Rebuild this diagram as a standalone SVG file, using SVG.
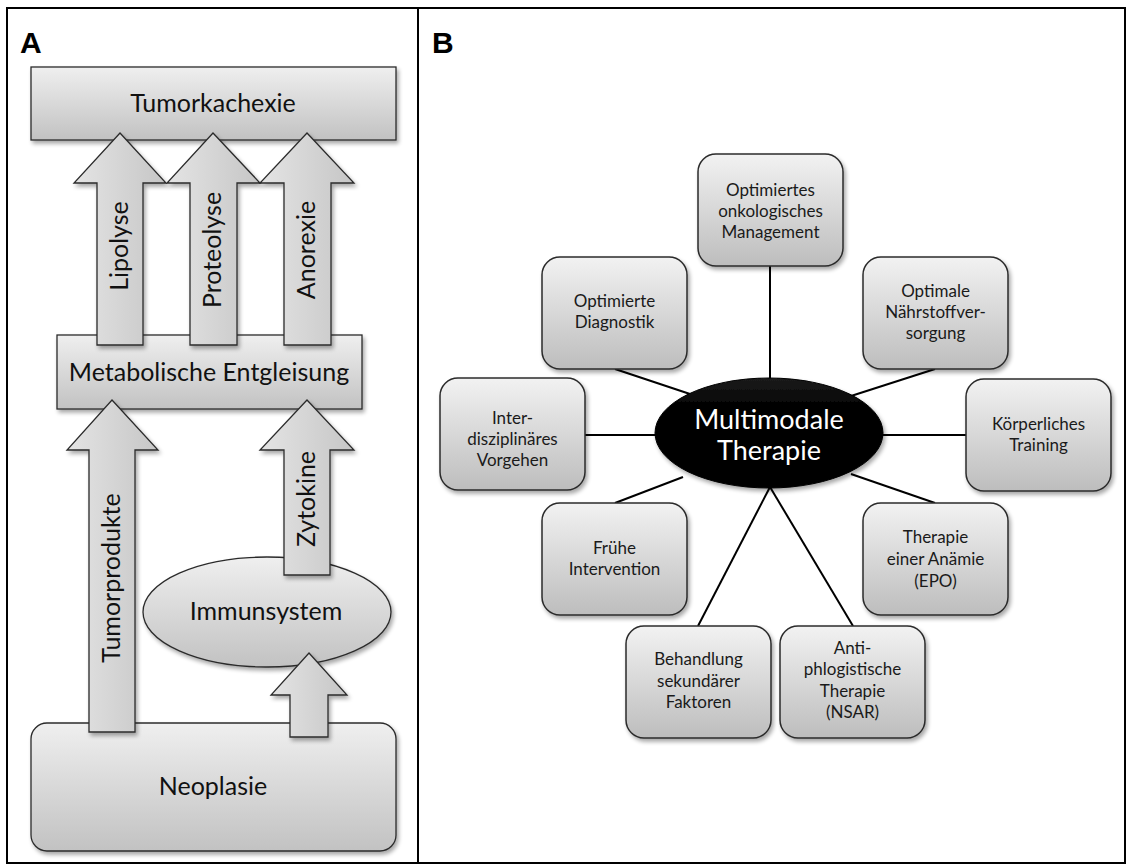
<svg xmlns="http://www.w3.org/2000/svg" width="1131" height="868" viewBox="0 0 1131 868">
  <style>
    .frame { fill: none; stroke: #000; stroke-width: 2; }
    .panel-label { font-family: "Liberation Sans", Arial, sans-serif; font-weight: bold; font-size: 30px; fill: #000; }
    .shape { fill: url(#grayFill); stroke: #2b2b2b; stroke-width: 1.3; filter: url(#shadow); }
    .arrow { fill: url(#arrowFill); stroke: #2b2b2b; stroke-width: 1.3; filter: url(#shadow); }
    .big { font-family: Lato, "Open Sans", sans-serif; font-size: 25px; fill: #111; text-anchor: middle; }
    .card { fill: url(#cardFill); stroke: #2b2b2b; stroke-width: 1.5; filter: url(#shadow); }
    .small { font-family: Lato, "Open Sans", sans-serif; font-size: 17px; fill: #1a1a1a; text-anchor: middle; }
    .hub-text { font-family: Lato, "Open Sans", sans-serif; font-size: 27px; fill: #fff; text-anchor: middle; }
    .link { stroke: #000; stroke-width: 2; fill: none; }
  </style>
  <defs>
    <linearGradient id="grayFill" x1="0" y1="0" x2="0" y2="1">
      <stop offset="0" stop-color="#efefef"/>
      <stop offset="1" stop-color="#c2c2c2"/>
    </linearGradient>
    <linearGradient id="arrowFill" x1="0" y1="0" x2="1" y2="0">
      <stop offset="0" stop-color="#e4e4e4"/>
      <stop offset="1" stop-color="#c6c6c6"/>
    </linearGradient>
    <linearGradient id="cardFill" x1="0" y1="0" x2="0" y2="1">
      <stop offset="0" stop-color="#f2f2f2"/>
      <stop offset="1" stop-color="#bdbdbd"/>
    </linearGradient>
    <linearGradient id="hubFill" x1="0" y1="0" x2="0" y2="1">
      <stop offset="0" stop-color="#1c1c1c"/>
      <stop offset="0.25" stop-color="#030303"/>
      <stop offset="1" stop-color="#000"/>
    </linearGradient>
    <filter id="shadow" x="-10%" y="-10%" width="125%" height="130%">
      <feGaussianBlur in="SourceAlpha" stdDeviation="2"/>
      <feOffset dx="1.5" dy="2.5" result="off"/>
      <feComponentTransfer><feFuncA type="linear" slope="0.35"/></feComponentTransfer>
      <feMerge><feMergeNode/><feMergeNode in="SourceGraphic"/></feMerge>
    </filter>
  </defs>

  <rect fill="#fff" x="0" y="0" width="1131" height="868"/>

  <!-- outer frame and panel divider -->
  <g id="frame">
    <rect class="frame" x="7" y="8" width="1118" height="855"/>
    <line class="frame" x1="418" y1="8" x2="418" y2="863"/>
    <text class="panel-label" x="20" y="53">A</text>
    <text class="panel-label" x="432" y="53">B</text>
  </g>

  <!-- Panel A: boxes -->
  <g id="tumorkachexie">
    <rect class="shape" x="31" y="67" width="365" height="73"/>
    <text class="big" x="213" y="112">Tumorkachexie</text>
  </g>
  <g id="metabolische-entgleisung">
    <rect class="shape" x="57" y="335" width="305" height="74"/>
    <text class="big" x="209" y="381">Metabolische Entgleisung</text>
  </g>
  <g id="immunsystem">
    <ellipse class="shape" cx="267" cy="612" rx="124" ry="55"/>
    <text class="big" x="266" y="620">Immunsystem</text>
  </g>
  <g id="neoplasie">
    <rect class="shape" x="31" y="723" width="365" height="128" rx="16"/>
    <text class="big" x="213" y="795">Neoplasie</text>
  </g>

  <!-- Panel A: block arrows -->
  <g id="arrows-a">
    <g id="arrow-lipolyse">
      <path class="arrow" d="M120,133 L166,183 L143,183 L143,345 L97,345 L97,183 L74,183 Z"/>
      <text class="big" transform="translate(128,246) rotate(-90)">Lipolyse</text>
    </g>
    <g id="arrow-proteolyse">
      <path class="arrow" d="M213,133 L260,183 L237,183 L237,345 L190,345 L190,183 L167,183 Z"/>
      <text class="big" transform="translate(221,250) rotate(-90)">Proteolyse</text>
    </g>
    <g id="arrow-anorexie">
      <path class="arrow" d="M307,133 L354,183 L331,183 L331,345 L284,345 L284,183 L260,183 Z"/>
      <text class="big" transform="translate(315,250) rotate(-90)">Anorexie</text>
    </g>
    <g id="arrow-tumorprodukte">
      <path class="arrow" d="M112,400 L158,450 L135,450 L135,732 L89,732 L89,450 L67,450 Z"/>
      <text class="big" transform="translate(120,578) rotate(-90)">Tumorprodukte</text>
    </g>
    <g id="arrow-zytokine">
      <path class="arrow" d="M307,400 L354,450 L330,450 L330,575 L284,575 L284,450 L260,450 Z"/>
      <text class="big" transform="translate(315,499) rotate(-90)">Zytokine</text>
    </g>
    <g id="arrow-neoplasie-immun">
      <path class="arrow" d="M309,653 L347,695 L328,695 L328,737 L290,737 L290,695 L271,695 Z"/>
    </g>
  </g>

  <!-- Panel B: spokes -->
  <g id="connectors">
    <line class="link" x1="770" y1="266" x2="770" y2="380"/>
    <line class="link" x1="615" y1="369" x2="690" y2="394"/>
    <line class="link" x1="585" y1="435" x2="657" y2="435"/>
    <line class="link" x1="935" y1="369" x2="851" y2="396"/>
    <line class="link" x1="882" y1="435" x2="966" y2="435"/>
    <line class="link" x1="851" y1="474" x2="935" y2="503"/>
    <line class="link" x1="615" y1="503" x2="683" y2="477"/>
    <line class="link" x1="770" y1="487" x2="698" y2="626"/>
    <line class="link" x1="770" y1="487" x2="853" y2="626"/>
  </g>

  <!-- Panel B: hub -->
  <g id="multimodale-therapie">
    <ellipse cx="769" cy="433" rx="114" ry="55" fill="url(#hubFill)" stroke="#000" stroke-width="1" filter="url(#shadow)"/>
    <text class="hub-text" x="769" y="429">Multimodale</text>
    <text class="hub-text" x="769" y="460">Therapie</text>
  </g>

  <!-- Panel B: measures -->
  <g id="management">
    <rect class="card" x="698" y="154" width="145" height="112" rx="18"/>
    <text class="small" x="770.5" y="196">Optimiertes</text>
    <text class="small" x="770.5" y="217">onkologisches</text>
    <text class="small" x="770.5" y="238">Management</text>
  </g>
  <g id="diagnostik">
    <rect class="card" x="542" y="257" width="145" height="112" rx="18"/>
    <text class="small" x="614.5" y="307">Optimierte</text>
    <text class="small" x="614.5" y="328">Diagnostik</text>
  </g>
  <g id="interdisziplinaer">
    <rect class="card" x="440" y="378" width="145" height="112" rx="18"/>
    <text class="small" x="512.5" y="424">Inter-</text>
    <text class="small" x="512.5" y="445">disziplinäres</text>
    <text class="small" x="512.5" y="466">Vorgehen</text>
  </g>
  <g id="naehrstoffversorgung">
    <rect class="card" x="863" y="257" width="145" height="112" rx="18"/>
    <text class="small" x="935.5" y="297">Optimale</text>
    <text class="small" x="935.5" y="318">Nährstoffver-</text>
    <text class="small" x="935.5" y="339">sorgung</text>
  </g>
  <g id="training">
    <rect class="card" x="966" y="379" width="145" height="112" rx="18"/>
    <text class="small" x="1038.5" y="430">Körperliches</text>
    <text class="small" x="1038.5" y="451">Training</text>
  </g>
  <g id="anaemie">
    <rect class="card" x="863" y="503" width="145" height="112" rx="18"/>
    <text class="small" x="935.5" y="543">Therapie</text>
    <text class="small" x="935.5" y="565">einer Anämie</text>
    <text class="small" x="935.5" y="587">(EPO)</text>
  </g>
  <g id="fruehe-intervention">
    <rect class="card" x="542" y="503" width="145" height="112" rx="18"/>
    <text class="small" x="614.5" y="554">Frühe</text>
    <text class="small" x="614.5" y="575">Intervention</text>
  </g>
  <g id="sekundaere-faktoren">
    <rect class="card" x="626" y="626" width="145" height="112" rx="18"/>
    <text class="small" x="698.5" y="665">Behandlung</text>
    <text class="small" x="698.5" y="687">sekundärer</text>
    <text class="small" x="698.5" y="708">Faktoren</text>
  </g>
  <g id="antiphlogistisch">
    <rect class="card" x="780" y="626" width="145" height="112" rx="18"/>
    <text class="small" x="852.5" y="654">Anti-</text>
    <text class="small" x="852.5" y="675">phlogistische</text>
    <text class="small" x="852.5" y="697">Therapie</text>
    <text class="small" x="852.5" y="718">(NSAR)</text>
  </g>
</svg>
